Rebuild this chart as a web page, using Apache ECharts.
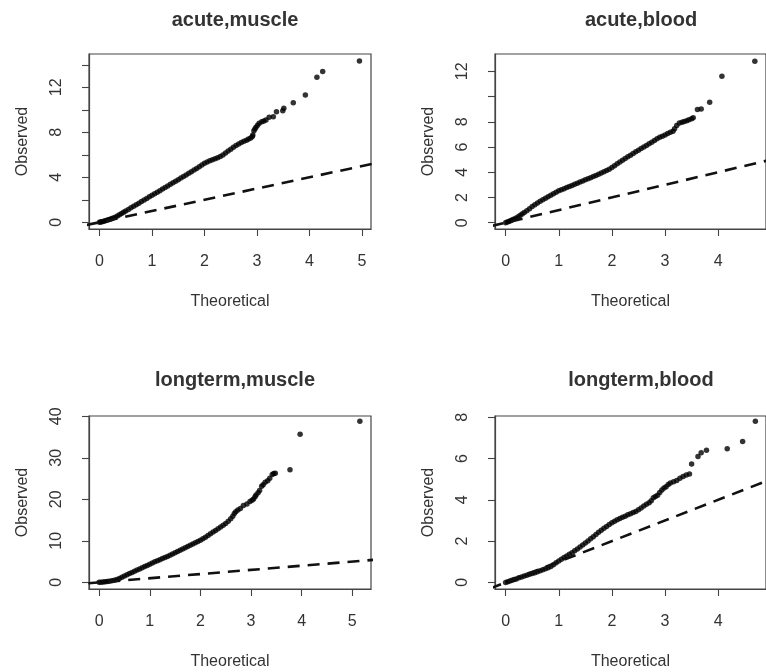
<!DOCTYPE html>
<html>
<head>
<meta charset="utf-8">
<script src="https://cdn.jsdelivr.net/npm/echarts@6/dist/echarts.min.js"></script>
<style>
html,body{margin:0;padding:0;background:#fff;}
#chart{width:766px;height:672px;}
</style>
</head>
<body>
<div id="chart"></div>
<script>
// ---------- DATA ----------
const panelTitles = ["acute,muscle", "acute,blood", "longterm,muscle", "longterm,blood"];
const xAxisName = "Theoretical";
const yAxisName = "Observed";

// [theoretical, observed] quantile points
const acuteMuscle = [
  [0.00,0.00],[0.02,0.02],[0.05,0.05],[0.08,0.09],[0.11,0.13],[0.14,0.17],[0.17,0.22],[0.20,0.27],
  [0.23,0.31],[0.26,0.37],[0.30,0.45],[0.34,0.55],[0.38,0.66],[0.42,0.77],[0.46,0.88],[0.50,0.99],
  [0.55,1.13],[0.60,1.28],[0.65,1.42],[0.70,1.56],[0.75,1.70],[0.80,1.84],[0.85,1.98],[0.90,2.12],
  [0.95,2.26],[1.00,2.40],[1.05,2.53],[1.10,2.67],[1.15,2.81],[1.20,2.95],[1.25,3.09],[1.30,3.23],
  [1.35,3.37],[1.40,3.51],[1.45,3.65],[1.50,3.79],[1.55,3.93],[1.60,4.07],[1.65,4.21],[1.70,4.36],
  [1.75,4.50],[1.80,4.64],[1.85,4.79],[1.90,4.94],[1.95,5.09],[2.00,5.24],[2.05,5.36],[2.10,5.47],
  [2.15,5.56],[2.20,5.64],[2.25,5.73],[2.30,5.84],[2.35,5.98],[2.40,6.15],[2.45,6.33],[2.50,6.50],
  [2.55,6.66],[2.60,6.82],[2.65,6.95],[2.70,7.08],[2.75,7.20],[2.80,7.30],[2.84,7.40],[2.88,7.50],
  [2.91,7.62],[2.92,7.75],[2.94,8.14],[2.96,8.30],[2.98,8.44],[3.01,8.62],[3.04,8.80],[3.09,8.94],
  [3.13,9.00],[3.17,9.09],[3.23,9.33],[3.31,9.39],[3.37,9.83],[3.49,9.92],[3.51,10.13],[3.69,10.63],
  [3.92,11.32],[4.14,12.89],[4.25,13.41],[4.95,14.34]
];
const acuteBlood = [
  [0.00,0.00],[0.03,0.05],[0.06,0.10],[0.09,0.16],[0.12,0.22],[0.15,0.28],[0.19,0.36],[0.23,0.46],
  [0.27,0.57],[0.31,0.68],[0.35,0.80],[0.40,0.94],[0.45,1.10],[0.50,1.28],[0.55,1.42],[0.60,1.56],
  [0.65,1.69],[0.70,1.82],[0.75,1.94],[0.80,2.06],[0.85,2.18],[0.90,2.30],[0.95,2.42],[1.00,2.53],
  [1.05,2.62],[1.10,2.70],[1.15,2.78],[1.20,2.86],[1.25,2.95],[1.30,3.04],[1.35,3.13],[1.40,3.22],
  [1.45,3.31],[1.50,3.40],[1.55,3.48],[1.60,3.57],[1.65,3.66],[1.70,3.75],[1.75,3.84],[1.80,3.93],
  [1.85,4.03],[1.90,4.13],[1.95,4.24],[2.00,4.38],[2.05,4.52],[2.10,4.68],[2.15,4.82],[2.20,4.95],
  [2.25,5.08],[2.30,5.22],[2.35,5.35],[2.40,5.48],[2.45,5.62],[2.50,5.75],[2.55,5.88],[2.60,6.00],
  [2.65,6.12],[2.70,6.25],[2.75,6.38],[2.80,6.52],[2.85,6.66],[2.90,6.77],[2.95,6.86],[3.00,6.96],
  [3.05,7.06],[3.10,7.16],[3.15,7.25],[3.18,7.45],[3.22,7.70],[3.27,7.91],[3.32,7.97],[3.36,8.02],
  [3.41,8.08],[3.45,8.15],[3.50,8.24],[3.53,8.31],[3.61,8.97],[3.68,9.02],[3.84,9.55],[4.07,11.60],
  [4.69,12.80]
];
const longtermMuscle = [
  [0.00,0.00],[0.04,0.03],[0.08,0.08],[0.12,0.13],[0.16,0.19],[0.20,0.26],[0.25,0.36],[0.30,0.50],
  [0.35,0.70],[0.40,0.95],[0.45,1.25],[0.50,1.55],[0.55,1.85],[0.60,2.12],[0.65,2.40],[0.70,2.68],
  [0.75,2.96],[0.80,3.24],[0.85,3.52],[0.90,3.80],[0.95,4.08],[1.00,4.38],[1.05,4.66],[1.10,4.94],
  [1.15,5.20],[1.20,5.46],[1.25,5.72],[1.30,5.98],[1.35,6.24],[1.40,6.52],[1.45,6.82],[1.50,7.12],
  [1.55,7.42],[1.60,7.74],[1.65,8.04],[1.70,8.34],[1.75,8.64],[1.80,8.94],[1.85,9.24],[1.90,9.54],
  [1.95,9.84],[2.00,10.16],[2.05,10.50],[2.10,10.88],[2.15,11.30],[2.20,11.70],[2.25,12.10],[2.30,12.50],
  [2.35,12.92],[2.40,13.34],[2.45,13.74],[2.50,14.20],[2.55,14.70],[2.60,15.30],[2.64,15.90],[2.67,16.60],
  [2.70,17.00],[2.74,17.40],[2.79,17.80],[2.85,18.50],[2.92,18.90],[2.98,19.50],[3.02,19.80],[3.05,20.10],
  [3.08,20.60],[3.10,21.06],[3.14,21.60],[3.17,22.10],[3.21,23.15],[3.24,23.50],[3.28,24.10],[3.33,24.50],
  [3.37,25.10],[3.42,26.00],[3.45,26.20],[3.48,26.30],[3.77,27.10],[3.97,35.70],[5.15,38.80]
];
const longtermBlood = [
  [0.00,0.00],[0.04,0.03],[0.08,0.07],[0.12,0.10],[0.16,0.14],[0.20,0.17],[0.25,0.22],[0.30,0.26],
  [0.35,0.31],[0.40,0.35],[0.45,0.39],[0.50,0.43],[0.55,0.47],[0.60,0.52],[0.65,0.57],[0.70,0.61],
  [0.75,0.66],[0.80,0.71],[0.85,0.77],[0.90,0.86],[0.95,0.95],[1.00,1.04],[1.05,1.12],[1.10,1.20],
  [1.15,1.28],[1.20,1.36],[1.25,1.44],[1.30,1.53],[1.35,1.62],[1.40,1.71],[1.45,1.81],[1.50,1.91],
  [1.55,2.01],[1.60,2.11],[1.65,2.21],[1.70,2.32],[1.75,2.43],[1.80,2.53],[1.85,2.62],[1.90,2.71],
  [1.95,2.80],[2.00,2.89],[2.05,2.96],[2.10,3.03],[2.15,3.09],[2.20,3.15],[2.25,3.21],[2.30,3.28],
  [2.35,3.32],[2.40,3.38],[2.45,3.44],[2.50,3.52],[2.55,3.60],[2.60,3.70],[2.65,3.78],[2.70,3.86],
  [2.74,3.95],[2.78,4.10],[2.82,4.16],[2.86,4.22],[2.90,4.35],[2.94,4.48],[2.98,4.57],[3.02,4.63],
  [3.06,4.74],[3.10,4.82],[3.16,4.88],[3.22,4.94],[3.28,5.04],[3.34,5.13],[3.40,5.20],[3.46,5.25],
  [3.50,5.74],[3.62,6.10],[3.68,6.28],[3.78,6.40],[4.17,6.47],[4.46,6.83],[4.70,7.81]
];
// y = x reference line end points
const refLine = [[-1, -1], [45, 45]];

// axis ranges and ticks
const xRanges = [[-0.2, 5.17], [-0.2, 4.9], [-0.2, 5.37], [-0.2, 4.9]];
const yRanges = [[-0.6, 14.96], [-0.5, 13.37], [-1.6, 40.07], [-0.32, 8.06]];
const xTicks = [[0,1,2,3,4,5], [0,1,2,3,4], [0,1,2,3,4,5], [0,1,2,3,4]];
const yTicks = [[0,2,4,6,8,10,12,14], [0,2,4,6,8,10,12], [0,10,20,30,40], [0,2,4,6,8]];
const yTickLabels = [[0,4,8,12], [0,2,4,6,8,12], [0,10,20,30,40], [0,2,4,6,8]];

// ---------- LAYOUT ----------
const panelData = [acuteMuscle, acuteBlood, longtermMuscle, longtermBlood];
const gridBoxes = [
  {left: 89, top: 54, width: 282, height: 175},
  {left: 495, top: 54, width: 282, height: 175},
  {left: 89, top: 416, width: 282, height: 173},
  {left: 495, top: 416, width: 282, height: 173}
];
const titleTops = [5, 5, 365, 365];
const FONT = '"Liberation Sans", Arial, Helvetica, sans-serif';
const TXT = '#333';
const LINE = '#444';

const option = {
  animation: false,
  backgroundColor: '#fff',
  title: panelTitles.map((t, i) => ({
    text: t,
    left: gridBoxes[i].left + gridBoxes[i].width / 2,
    top: titleTops[i],
    textAlign: 'center',
    textStyle: {fontFamily: FONT, fontSize: 20, fontWeight: 'bold', color: TXT}
  })),
  grid: gridBoxes.map(g => Object.assign({show: true, borderColor: LINE, borderWidth: 1.2, backgroundColor: 'transparent'}, g)),
  xAxis: gridBoxes.map((g, i) => ({
    type: 'value', gridIndex: i, min: xRanges[i][0], max: xRanges[i][1],
    position: 'bottom',
    name: xAxisName, nameLocation: 'middle', nameGap: 65,
    nameTextStyle: {fontFamily: FONT, fontSize: 16, color: TXT},
    axisLine: {show: true, onZero: false, lineStyle: {color: LINE, width: 1.2}},
    splitLine: {show: false},
    axisTick: {show: true, inside: false, length: 7, lineStyle: {color: LINE, width: 1.1}, customValues: xTicks[i]},
    axisLabel: {fontFamily: FONT, fontSize: 16, color: TXT, margin: 25, customValues: xTicks[i]}
  })),
  yAxis: gridBoxes.map((g, i) => ({
    type: 'value', gridIndex: i, min: yRanges[i][0], max: yRanges[i][1],
    position: 'left',
    name: yAxisName, nameLocation: 'middle', nameGap: 58,
    nameTextStyle: {fontFamily: FONT, fontSize: 16, color: TXT},
    axisLine: {show: true, onZero: false, lineStyle: {color: LINE, width: 1.2}},
    splitLine: {show: false},
    axisTick: {show: true, inside: false, length: 7, lineStyle: {color: LINE, width: 1.1}, customValues: yTicks[i]},
    axisLabel: {fontFamily: FONT, fontSize: 16, color: TXT, margin: 24, rotate: 90, customValues: yTickLabels[i]}
  })),
  series: []
};

panelData.forEach((d, i) => {
  option.series.push({
    type: 'scatter', xAxisIndex: i, yAxisIndex: i, data: d,
    symbol: 'circle', symbolSize: 5.5, itemStyle: {color: '#000'}, silent: true
  });
  option.series.push({
    type: 'line', xAxisIndex: i, yAxisIndex: i, data: refLine, clip: true,
    symbol: 'none', lineStyle: {color: '#111', width: 2.6, type: [12, 8]}, silent: true
  });
});

const chart = echarts.init(document.getElementById('chart'), null, {renderer: 'canvas'});
chart.setOption(option);
</script>
</body>
</html>
